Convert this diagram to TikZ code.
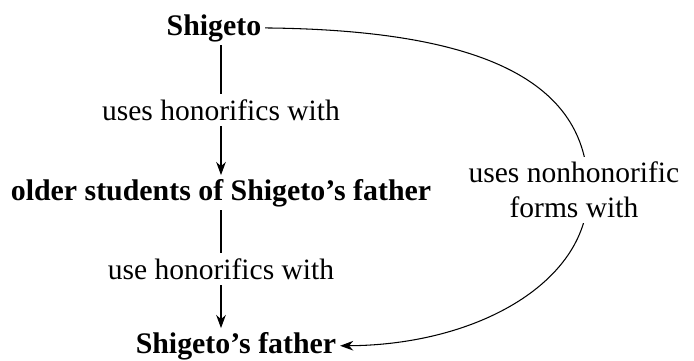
\documentclass[tikz,border=0pt]{standalone}
\usepackage{fontspec}
\setmainfont{Liberation Serif}
\usetikzlibrary{arrows.meta, positioning}
\tikzset{
    person/.style={font=\fontsize{17}{20}\selectfont\bfseries, inner sep=2pt, anchor=base},
    rel/.style={font=\fontsize{16.8}{20}\selectfont, fill=white, inner sep=3pt, align=center},
    arrow/.style={line width=0.6pt, -{Stealth[length=7.5pt,width=5.5pt]}},
}

\begin{document}
\begin{tikzpicture}[x=0.02cm, y=0.02cm]
  \useasboundingbox (0,0) rectangle (694,360);

  \node[person] (shig)   at (214,325) {Shigeto};
  \node[person] (older)  at (221,160) {older students of Shigeto's father};
  \node[person] (father) at (236,7)   {Shigeto's father};

  \draw[arrow] (shig.south -| older.north) -- node[rel] {uses honorifics with} (older.north);
  \draw[arrow] (older.south) -- node[rel] {use honorifics with} (older.south |- father.north);
  \draw[arrow] (shig.east) .. controls (480,330) and (588,280) .. (588,170)
    node[rel, xshift=-8pt] {uses nonhonorific\\forms with}
    .. controls (590,80) and (480,15) .. (father.east);
\end{tikzpicture}
\end{document}
